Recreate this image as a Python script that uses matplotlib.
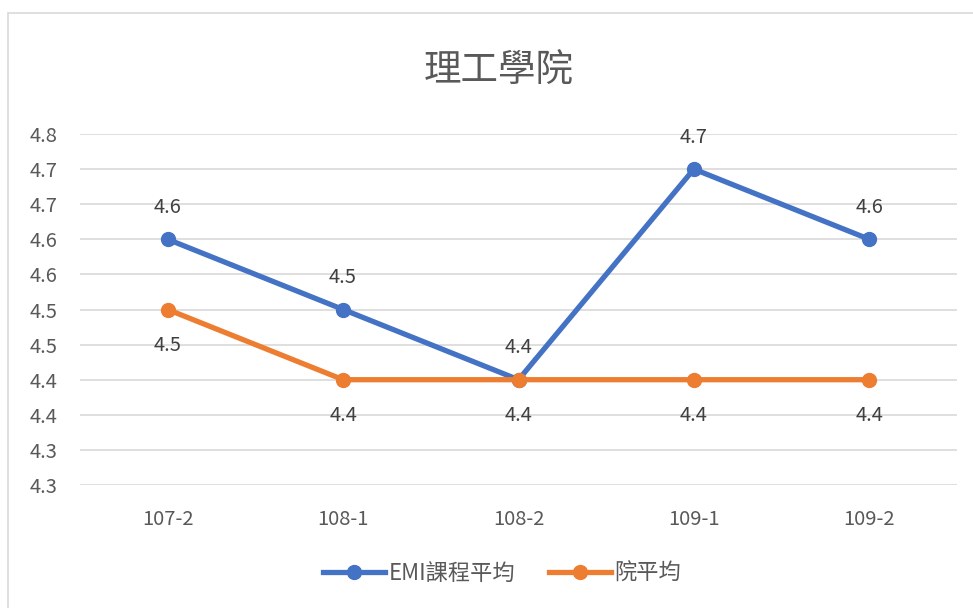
import matplotlib
matplotlib.use("Agg")
import matplotlib.pyplot as plt
from matplotlib.patches import Rectangle
from matplotlib.lines import Line2D

plt.rcParams["font.family"] = ["Noto Sans CJK TC", "DejaVu Sans"]

# data
semesters = ["107-2", "108-1", "108-2", "109-1", "109-2"]
emi_avg = [4.6, 4.5, 4.4, 4.7, 4.6]
college_avg = [4.5, 4.4, 4.4, 4.4, 4.4]
yticks = [4.25, 4.30, 4.35, 4.40, 4.45, 4.50, 4.55, 4.60, 4.65, 4.70, 4.75]
ytick_labels = ["4.3", "4.3", "4.4", "4.4", "4.5", "4.5", "4.6", "4.6", "4.7", "4.7", "4.8"]

blue = "#4472C4"
orange = "#ED7D31"
txt = "#595959"

W, H = 973, 608
fig = plt.figure(figsize=(W / 100, H / 100), dpi=100)
ax = fig.add_axes([80 / W, 1 - 485 / H, (957 - 80) / W, (485 - 134) / H])

# chart frame
fig.patches.append(Rectangle((8 / W, -0.1), 1.2, 1 - 13 / H + 0.1,
                             transform=fig.transFigure, fill=False,
                             ec="#D9D9D9", lw=1.2))

x = range(len(semesters))
ax.plot(x, emi_avg, color=blue, lw=3.8, marker="o", ms=10, zorder=3,
        solid_capstyle="round")
ax.plot(x, college_avg, color=orange, lw=3.8, marker="o", ms=10, zorder=3,
        solid_capstyle="round")

# data labels
for i, v in enumerate(emi_avg):
    ax.annotate(f"{v:.1f}", (i, v), xytext=(0, 23), textcoords="offset points",
                ha="center", va="center", fontsize=14.5, color="#404040")
for i, v in enumerate(college_avg):
    ax.annotate(f"{v:.1f}", (i, v), xytext=(0, -26), textcoords="offset points",
                ha="center", va="center", fontsize=14.5, color="#404040")

ax.set_xlim(-0.5, len(semesters) - 0.5)
ax.set_ylim(yticks[0], yticks[-1])
ax.set_yticks(yticks)
ax.set_yticklabels(ytick_labels)
ax.set_xticks(list(x))
ax.set_xticklabels(semesters)
ax.tick_params(axis="y", length=0, pad=16, labelsize=14.5, labelcolor=txt)
ax.tick_params(axis="x", length=0, pad=17, labelsize=14.5, labelcolor=txt)
ax.grid(axis="y", color="#D9D9D9", lw=1.2, zorder=0)
for s in ax.spines.values():
    s.set_visible(False)

fig.text(499 / W, 1 - 71 / H, "理工學院", ha="center", va="center",
         fontsize=27, color=txt, fontweight="light")

handles = [
    Line2D([], [], color=blue, lw=3.8, marker="o", ms=10),
    Line2D([], [], color=orange, lw=3.8, marker="o", ms=10),
]
fig.legend(handles, ["EMI課程平均", "院平均"], loc="center",
           bbox_to_anchor=(502 / W, 1 - 573 / H), ncol=2, frameon=False,
           fontsize=16, labelcolor=txt, handlelength=2.8, handletextpad=0.15,
           columnspacing=1.5)

fig.savefig("out.png", dpi=100)
